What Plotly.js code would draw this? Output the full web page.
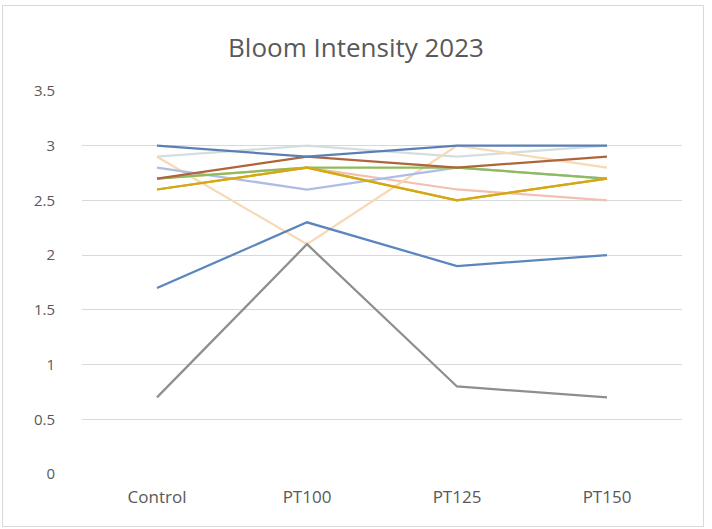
<!DOCTYPE html>
<html>
<head>
<meta charset="utf-8">
<script src="https://cdn.plot.ly/plotly-3.0.1.min.js"></script>
<style>
  html, body { margin: 0; padding: 0; background: #fff; }
  #wrap { position: relative; width: 712px; height: 529px; }
  #chart { width: 712px; height: 529px; }
  #frame { position: absolute; left: 2px; top: 5px; width: 700px; height: 520px;
           border: 1px solid #d9d9d9; pointer-events: none; }
</style>
</head>
<body>
<div id="wrap">
  <div id="chart"></div>
  <div id="frame"></div>
</div>
<script>
// Treatments on the category axis
const treatments = ["Control", "PT100", "PT125", "PT150"];

// Bloom intensity per plant series
const seriesA = [3.0, 2.9, 3.0, 3.0];
const seriesB = [1.7, 2.3, 1.9, 2.0];
const seriesC = [0.7, 2.1, 0.8, 0.7];
const seriesD = [2.9, 2.1, 3.0, 2.8];
const seriesE = [2.7, 2.9, 2.8, 2.9];
const seriesF = [2.7, 2.8, 2.8, 2.7];
const seriesG = [2.6, 2.8, 2.5, 2.7];
const seriesH = [2.6, 2.8, 2.5, 2.7];
const seriesI = [2.8, 2.6, 2.8, 2.7];
const seriesJ = [2.7, 2.8, 2.6, 2.5];
const seriesK = [2.9, 3.0, 2.9, 3.0];

const yTicks = [0, 0.5, 1, 1.5, 2, 2.5, 3, 3.5];

const lines = [
  { y: seriesK, color: "#d3dede" },
  { y: seriesJ, color: "#f2c0b0" },
  { y: seriesD, color: "#f7d9b5" },
  { y: seriesI, color: "#aebde6" },
  { y: seriesF, color: "#8fbc5a" },
  { y: seriesH, color: "#f0a040" },
  { y: seriesG, color: "#d2aa10" },
  { y: seriesE, color: "#b0643a" },
  { y: seriesC, color: "#8e8e8e" },
  { y: seriesB, color: "#5a86bd" },
  { y: seriesA, color: "#5b7fb5" }
];

const traces = lines.map(l => ({
  type: "scatter",
  mode: "lines",
  x: treatments,
  y: l.y,
  line: { color: l.color, width: 2.25 },
  hoverinfo: "y"
}));

const font = "'Open Sans', 'Noto Sans', sans-serif";

const layout = {
  width: 712,
  height: 529,
  paper_bgcolor: "#ffffff",
  plot_bgcolor: "#ffffff",
  showlegend: false,
  margin: { l: 82, r: 30, t: 91, b: 55 },
  title: {
    text: "Bloom Intensity 2023",
    font: { family: font, size: 26, color: "#595959" },
    x: 0.5, xanchor: "center",
    y: 0.91, yanchor: "middle"
  },
  xaxis: {
    type: "category",
    range: [-0.5, 3.5],
    showgrid: false,
    zeroline: false,
    showline: false,
    ticks: "",
    tickfont: { family: font, size: 17, color: "#595959" },
    ticklabelstandoff: 11
  },
  yaxis: {
    range: [0, 3.5],
    tickvals: yTicks,
    ticktext: yTicks.map(String),
    showgrid: true,
    gridcolor: "#d9d9d9",
    gridwidth: 1,
    zeroline: false,
    showline: false,
    ticks: "",
    tickfont: { family: font, size: 15, color: "#595959" },
    ticklabelstandoff: 26
  }
};

Plotly.newPlot("chart", traces, layout, { displayModeBar: false, staticPlot: true });
</script>
</body>
</html>
